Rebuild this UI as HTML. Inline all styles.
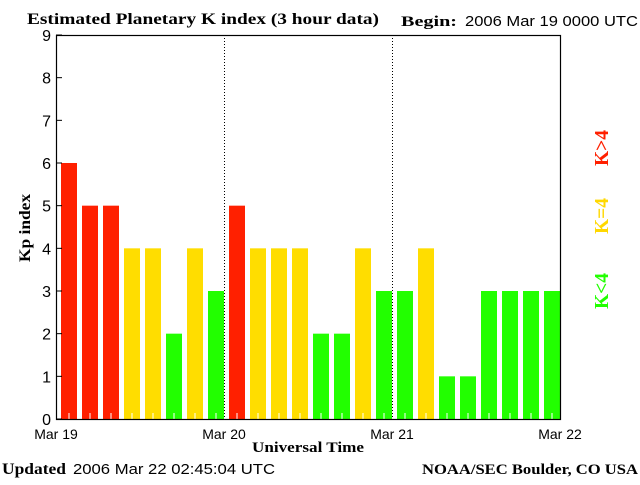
<!DOCTYPE html>
<html><head><meta charset="utf-8"><style>
body{margin:0;background:#fff;width:640px;height:480px;overflow:hidden}
svg text{font-family:"Liberation Sans",sans-serif}
.serif{font-family:"Liberation Serif",serif;font-weight:bold}
</style></head><body>
<svg id="chart" width="640" height="480" xmlns="http://www.w3.org/2000/svg">
<text class="serif" x="27" y="24" font-size="16" textLength="352" lengthAdjust="spacingAndGlyphs">Estimated Planetary K index (3 hour data)</text>
<text class="serif" x="401" y="26" font-size="15" textLength="56" lengthAdjust="spacingAndGlyphs">Begin:</text>
<text x="465" y="26" font-size="15" textLength="173" lengthAdjust="spacingAndGlyphs">2006 Mar 19 0000 UTC</text>
<text class="serif" x="30" y="228" font-size="16" transform="rotate(-90 30 228)" text-anchor="middle" textLength="68" lengthAdjust="spacingAndGlyphs">Kp index</text>
<text class="serif" x="308" y="452" font-size="15" text-anchor="middle" textLength="112" lengthAdjust="spacingAndGlyphs">Universal Time</text>
<text class="serif" x="2" y="474" font-size="16" textLength="64" lengthAdjust="spacingAndGlyphs">Updated</text>
<text x="73" y="474" font-size="15" textLength="202" lengthAdjust="spacingAndGlyphs">2006 Mar 22 02:45:04 UTC</text>
<text class="serif" x="422" y="474" font-size="15" textLength="216" lengthAdjust="spacingAndGlyphs">NOAA/SEC Boulder, CO USA</text>
<text class="serif" x="608" y="148" font-size="20" fill="#ff2000" transform="rotate(-90 608 148)" text-anchor="middle" textLength="36" lengthAdjust="spacingAndGlyphs">K&gt;4</text>
<text class="serif" x="608" y="216" font-size="20" fill="#ffd800" transform="rotate(-90 608 216)" text-anchor="middle" textLength="36" lengthAdjust="spacingAndGlyphs">K=4</text>
<text class="serif" x="608" y="291" font-size="20" fill="#22ff00" transform="rotate(-90 608 291)" text-anchor="middle" textLength="36" lengthAdjust="spacingAndGlyphs">K&lt;4</text>
<g id="plot"></g>
</svg>
<script>
const kpValues=[6,5,5,4,4,2,4,3, 5,4,4,4,2,2,4,3, 3,4,1,1,3,3,3,3];
const yTicks=[0,1,2,3,4,5,6,7,8,9];
const dayLabels=["Mar 19","Mar 20","Mar 21","Mar 22"];
const L=56,R=560,T=35,B=419;
const slot=(R-L)/kpValues.length;
const y=v=>B-(v/9)*(B-T);
const x=i=>L+i*slot;
const g=document.getElementById('plot');
const NS="http://www.w3.org/2000/svg";
function mk(t,a){const e=document.createElementNS(NS,t);for(const k in a)e.setAttribute(k,a[k]);g.appendChild(e);return e;}
kpValues.forEach((v,i)=>{
  const c=v>4?"#ff2000":(v==4?"#ffdd00":"#22ff00");
  const r=mk('rect',{x:x(i)+5,y:y(v),width:slot-5,height:B-y(v),fill:c});
  
  
  const tk=mk('line',{x1:x(i)+slot/2+2.5,x2:x(i)+slot/2+2.5,y1:B-6,y2:B,stroke:'#fff'});
  
  
});
for(let d=1;d<3;d++){
  const xx=L+d*8*slot+0.5;
  const ln=mk('line',{x1:xx,x2:xx,y1:T,y2:B,stroke:'#000','stroke-dasharray':'1,2'});
  
  
}
const fr=mk('rect',{x:L+0.5,y:T+0.5,width:R-L,height:B-T,fill:'none',stroke:'#000','stroke-width':1.2});


yTicks.forEach(v=>{
  const t=mk('line',{x1:L,x2:L+6,y1:y(v),y2:y(v),stroke:'#000'});
  
  
  const tx=mk('text',{x:L-5,y:y(v)+6,'font-size':16,'text-anchor':'end'});
  tx.textContent=v;
  
  
});
dayLabels.forEach((s,d)=>{
  const tx=mk('text',{x:L+d*8*slot,y:439,'font-size':14,'text-anchor':'middle'});
  tx.textContent=s;
  
  
});
</script>
</body></html>
